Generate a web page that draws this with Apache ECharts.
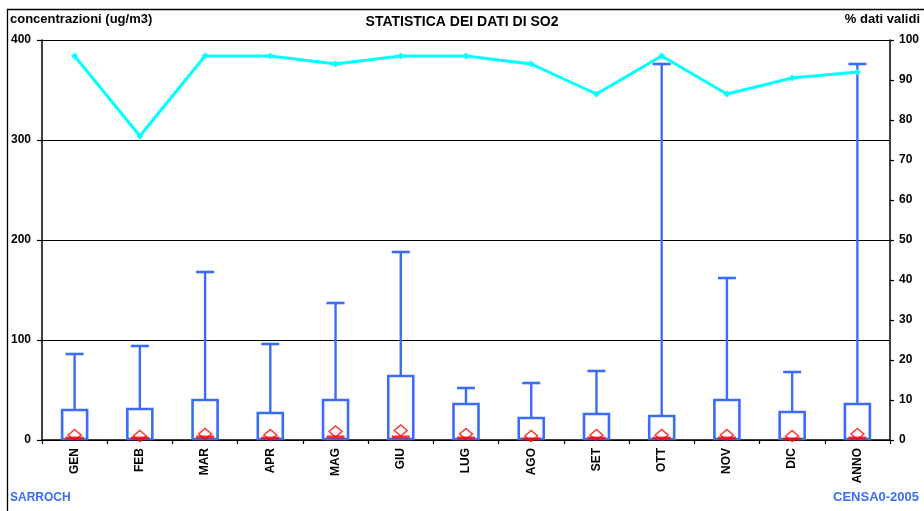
<!DOCTYPE html>
<html>
<head>
<meta charset="utf-8">
<script src="https://cdn.jsdelivr.net/npm/echarts@6/dist/echarts.min.js"></script>
<style>
html,body{margin:0;padding:0;background:#fff;}
#c{width:924px;height:511px;}
</style>
</head>
<body>
<div id="c"></div>
<script>
const categories = ['GEN','FEB','MAR','APR','MAG','GIU','LUG','AGO','SET','OTT','NOV','DIC','ANNO'];
const q3Values = [30,31,40,27,40,64,36,22,26,24,40,28,36];
const maxValues = [86,94,168,96,137,188,52,57,69,376,162,68,376];
const medianValues = [2,2,3,2,3,3,2,1,2,2,2,1,2];
const meanValues = [5,4,6,5,8.5,9.5,6,4,5,5,5,4,6];
const validPct = [96,76,96,96,94,96,96,94,86.5,96,86.5,90.5,92];
const leftTicks = [0,100,200,300,400];
const rightTicks = [0,10,20,30,40,50,60,70,80,90,100];

const BLUE = '#3b6cf5';
const FONT = '"Liberation Sans", Arial, sans-serif';

const chart = echarts.init(document.getElementById('c'), null, {renderer:'canvas'});

const boxData = categories.map((c,i)=>[i, q3Values[i], maxValues[i]]);

const option = {
  backgroundColor:'#fff',
  animation:false,
  textStyle:{fontFamily:FONT},
  grid:{left:42, right:34, top:40, bottom:71, containLabel:false},
  graphic:[
    {type:'rect', shape:{x:7.5,y:9.5,width:1000,height:1000}, style:{fill:'none',stroke:'#000',lineWidth:1.3}, z:-1},
    {type:'text', left:10, top:13, style:{text:'concentrazioni (ug/m3)', font:'bold 13px '+FONT, fill:'#000'}},
    {type:'text', right:4, top:13, style:{text:'% dati validi', font:'bold 13px '+FONT, fill:'#000'}},
    {type:'text', left:'center', top:15, style:{text:'STATISTICA DEI DATI DI SO2', font:'bold 14px '+FONT, fill:'#000'}},
    {type:'text', left:10, top:492, style:{text:'SARROCH', font:'bold 12px '+FONT, fill:BLUE}},
    {type:'text', right:5, top:491, style:{text:'CENSA0-2005', font:'bold 13px '+FONT, fill:BLUE}}
  ],
  xAxis:{
    type:'category', data:categories, boundaryGap:true,
    axisLine:{lineStyle:{color:'#000',width:1.5}},
    axisTick:{show:true, length:4, lineStyle:{color:'#000', width:1.2}},
    axisLabel:{rotate:90, fontWeight:'bold', fontSize:12, color:'#000', margin:8, fontFamily:FONT, interval:0}
  },
  yAxis:[
    {type:'value', min:0, max:400, interval:100, position:'left',
     axisLine:{show:true, lineStyle:{color:'#000',width:1.5}},
     axisTick:{show:true, length:5, lineStyle:{color:'#000', width:1.2}},
     axisLabel:{fontWeight:'bold', fontSize:12, color:'#000', margin:11, fontFamily:FONT},
     splitLine:{show:true, lineStyle:{color:'#000', width:1}}},
    {type:'value', min:0, max:100, interval:10, position:'right',
     axisLine:{show:true, lineStyle:{color:'#000',width:1.5}},
     axisTick:{show:true, length:4, lineStyle:{color:'#000', width:1.2}},
     axisLabel:{fontWeight:'bold', fontSize:12, color:'#000', margin:9, fontFamily:FONT},
     splitLine:{show:false}}
  ],
  series:[
    {
      type:'custom', yAxisIndex:0, data:boxData, z:2,
      renderItem:function(params, api){
        const i = api.value(0);
        const p0 = api.coord([i, 0]);
        const pq = api.coord([i, api.value(1)]);
        const pm = api.coord([i, api.value(2)]);
        const x = p0[0];
        const bw = 12.5, cw = 9;
        return {type:'group', children:[
          {type:'rect', shape:{x:x-bw, y:pq[1], width:bw*2, height:p0[1]-pq[1]-1},
           style:{fill:'none', stroke:BLUE, lineWidth:2.6}},
          {type:'line', shape:{x1:x, y1:pq[1], x2:x, y2:pm[1]}, style:{stroke:BLUE, lineWidth:2.4}},
          {type:'line', shape:{x1:x-cw, y1:pm[1], x2:x+cw, y2:pm[1]}, style:{stroke:BLUE, lineWidth:2.6}}
        ]};
      }
    },
    {
      type:'scatter', yAxisIndex:0, data:medianValues, z:3,
      symbol:'rect', symbolSize:[18,3],
      itemStyle:{color:'#ff0000'}
    },
    {
      type:'scatter', yAxisIndex:0, data:meanValues, z:4,
      symbol:'diamond', symbolSize:[13,11],
      itemStyle:{color:'rgba(255,255,255,0)', borderColor:'#ff0000', borderWidth:1.4}
    },
    {
      type:'line', yAxisIndex:1, data:validPct, z:5,
      symbol:'diamond', symbolSize:7, showSymbol:true,
      lineStyle:{color:'#00ffff', width:3},
      itemStyle:{color:'#00ffff'}
    }
  ]
};
chart.setOption(option);
</script>
</body>
</html>
